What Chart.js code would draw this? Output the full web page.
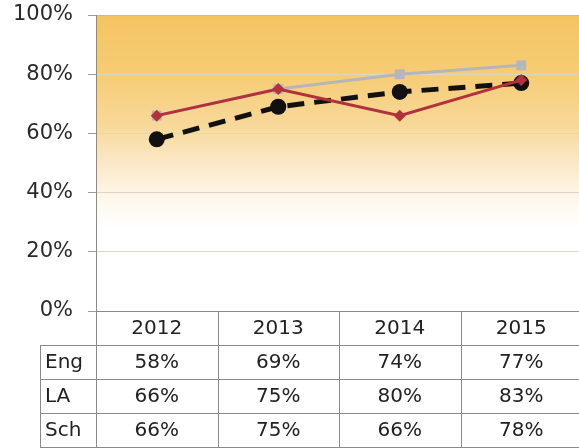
<!DOCTYPE html>
<html>
<head>
<meta charset="utf-8">
<script src="https://cdn.jsdelivr.net/npm/chart.js@4/dist/chart.umd.min.js"></script>
<style>
  html, body { margin: 0; padding: 0; background: #fff; overflow: hidden; }
  #wrap { width: 590px; height: 448px; }
</style>
</head>
<body>
<div id="wrap"><canvas id="chart" width="590" height="448"></canvas></div>
<script>
// data
var years = ['2012', '2013', '2014', '2015'];
var seriesNames = ['Eng', 'LA', 'Sch'];
var eng = [58, 69, 74, 77];
var la = [66, 75, 80, 83];
var sch = [66, 75, 66, 78];
var yTicks = [0, 20, 40, 60, 80, 100];

var FONT = 'DejaVu Sans, Verdana, sans-serif';

// orange fade behind the plot
var plotBg = {
    id: 'plotBg',
    beforeDraw: function (chart) {
        var ctx = chart.ctx, a = chart.chartArea;
        var g = ctx.createLinearGradient(0, a.top, 0, a.bottom);
        g.addColorStop(0, '#f4c462');
        g.addColorStop(0.2, '#f6cc74');
        g.addColorStop(0.38, '#f8d99c');
        g.addColorStop(0.5, '#fbe8c8');
        g.addColorStop(0.62, '#fef7ec');
        g.addColorStop(0.72, '#ffffff');
        g.addColorStop(1, '#ffffff');
        ctx.save();
        ctx.fillStyle = g;
        ctx.fillRect(a.left, a.top, a.right - a.left, a.bottom - a.top);
        ctx.restore();
    }
};

// the data table under the plot
var dataTable = {
    id: 'dataTable',
    afterDraw: function (chart) {
        var ctx = chart.ctx, a = chart.chartArea, x = chart.scales.x;
        var colW = (a.right - a.left) / years.length;
        var rowH = 34;
        var top = a.bottom;
        var labelLeft = 40;
        var rows = [eng, la, sch];
        ctx.save();
        ctx.strokeStyle = '#8a8a8a';
        ctx.lineWidth = 1;
        ctx.beginPath();
        ctx.moveTo(a.left, top + 0.5); ctx.lineTo(chart.width, top + 0.5);
        for (var r = 1; r <= rows.length + 1; r++) {
            var yy = Math.round(top + r * rowH) + 0.5;
            ctx.moveTo(labelLeft, yy); ctx.lineTo(chart.width, yy);
        }
        for (var c = 0; c <= years.length; c++) {
            var xx = Math.round(a.left + c * colW) + 0.5;
            ctx.moveTo(xx, c === 0 ? a.top : top); ctx.lineTo(xx, top + (rows.length + 1) * rowH);
        }
        ctx.moveTo(labelLeft + 0.5, top + rowH); ctx.lineTo(labelLeft + 0.5, top + (rows.length + 1) * rowH);
        ctx.stroke();

        ctx.fillStyle = '#222';
        ctx.font = '20px ' + FONT;
        ctx.textBaseline = 'middle';
        ctx.textAlign = 'center';
        years.forEach(function (yr, i) {
            ctx.fillText(yr, x.getPixelForValue(i), top + rowH / 2 + 1);
        });
        rows.forEach(function (vals, r) {
            var cy = top + (r + 1) * rowH + rowH / 2 + 1;
            ctx.textAlign = 'left';
            ctx.fillText(seriesNames[r], labelLeft + 5, cy);
            ctx.textAlign = 'center';
            vals.forEach(function (v, i) {
                ctx.fillText(v + '%', x.getPixelForValue(i), cy);
            });
        });
        ctx.restore();
    }
};

new Chart(document.getElementById('chart'), {
    type: 'line',
    data: {
        labels: years,
        datasets: [{
            label: 'Sch',
            data: sch,
            borderColor: '#b3303c',
            backgroundColor: '#b3303c',
            borderWidth: 3,
            pointStyle: 'rectRot',
            pointRadius: 6,
            pointBorderWidth: 0,
            order: 1
        }, {
            label: 'Eng',
            data: eng,
            borderColor: '#111',
            backgroundColor: '#111',
            borderWidth: 5,
            borderDash: [17, 10],
            pointStyle: 'circle',
            pointRadius: 8,
            pointBorderWidth: 0,
            order: 2
        }, {
            label: 'LA',
            data: la,
            borderColor: '#b4b6b8',
            backgroundColor: '#b4b6b8',
            borderWidth: 3,
            pointStyle: 'rect',
            pointRadius: 7,
            pointBorderWidth: 0,
            order: 3
        }]
    },
    options: {
        responsive: false,
        animation: false,
        layout: { padding: { top: 15, right: 6, bottom: 137, left: 0 } },
        plugins: {
            legend: { display: false },
            tooltip: { enabled: false }
        },
        scales: {
            x: {
                display: false,
                offset: true
            },
            y: {
                min: 0,
                max: 100,
                afterBuildTicks: function (axis) {
                    axis.ticks = yTicks.map(function (v) { return { value: v }; });
                },
                afterFit: function (axis) {
                    axis.width = 96;
                    axis.paddingTop = 0;
                    axis.paddingBottom = 0;
                },
                border: { display: true, color: '#9a9a9a', width: 1 },
                grid: {
                    color: function (c) { return c.tick.value === 100 ? '#b8b8c0' : '#e0d4c4'; },
                    lineWidth: 1,
                    tickLength: 8,
                    tickColor: '#9a9a9a'
                },
                ticks: {
                    color: '#2a2a2a',
                    font: { family: FONT, size: 21 },
                    padding: 15,
                    callback: function (v) { return v + '%'; }
                }
            }
        }
    },
    plugins: [plotBg, dataTable]
});
</script>
</body>
</html>
